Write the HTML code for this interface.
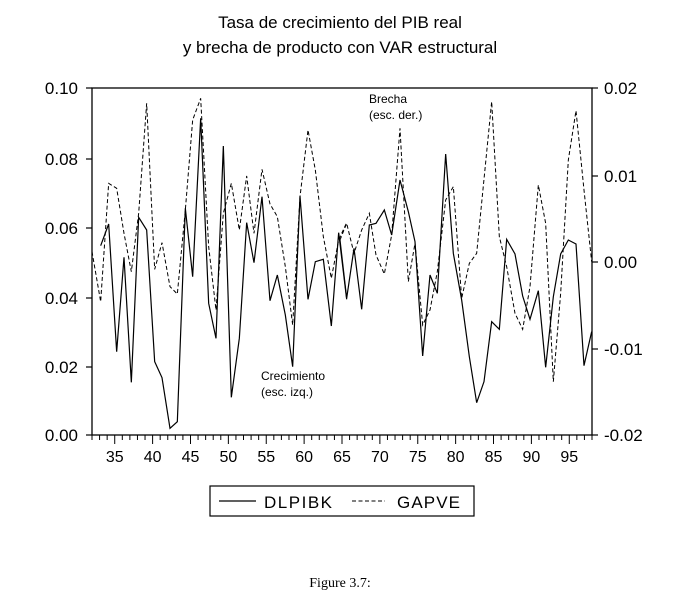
<!DOCTYPE html>
<html><head><meta charset="utf-8"><style>
body{margin:0;background:#fff;}
svg text{font-family:"Liberation Sans",sans-serif;fill:#000;}
</style></head><body>
<svg width="678" height="598" viewBox="0 0 678 598" xmlns="http://www.w3.org/2000/svg">
<text x="340" y="28" font-size="17" text-anchor="middle">Tasa de crecimiento del PIB real</text>
<text x="340" y="53" font-size="17" text-anchor="middle">y brecha de producto con VAR estructural</text>
<rect x="92" y="88" width="500" height="347" fill="none" stroke="#000" stroke-width="1.3"/>
<g stroke="#000" stroke-width="1.2">
<line x1="86" y1="88" x2="92" y2="88"/><line x1="86" y1="159" x2="92" y2="159"/><line x1="86" y1="228" x2="92" y2="228"/><line x1="86" y1="298" x2="92" y2="298"/><line x1="86" y1="367" x2="92" y2="367"/><line x1="86" y1="435" x2="92" y2="435"/>
<line x1="592" y1="88" x2="598" y2="88"/><line x1="592" y1="176" x2="598" y2="176"/><line x1="592" y1="262" x2="598" y2="262"/><line x1="592" y1="349" x2="598" y2="349"/><line x1="592" y1="435" x2="598" y2="435"/>
</g>
<g id="xt" stroke="#000" stroke-width="1"></g>
<g font-size="17">
<text x="78" y="94" text-anchor="end">0.10</text>
<text x="78" y="165" text-anchor="end">0.08</text>
<text x="78" y="234" text-anchor="end">0.06</text>
<text x="78" y="304" text-anchor="end">0.04</text>
<text x="78" y="373" text-anchor="end">0.02</text>
<text x="78" y="441" text-anchor="end">0.00</text>
<text x="604" y="94">0.02</text>
<text x="604" y="182">0.01</text>
<text x="604" y="268">0.00</text>
<text x="604" y="355">-0.01</text>
<text x="604" y="441">-0.02</text>
</g>
<g font-size="16" text-anchor="middle" id="xl"></g>
<g transform="translate(88,80) scale(0.33333)" fill="none" stroke="#000">
<polyline vector-effect="non-scaling-stroke" stroke-width="1.2" points="38,497 62,432 86,815 108,532 130,907 152,412 176,450 200,845 222,893 246,1045 268,1025 292,385 314,590 338,115 362,670 384,775 406,198 430,952 454,775 476,428 498,548 522,350 546,662 568,585 592,705 614,860 636,348 660,658 682,545 706,538 730,738 752,458 776,658"/>
<polyline vector-effect="non-scaling-stroke" stroke-width="1" stroke-dasharray="4,2.5" points="12,515 38,665 62,310 86,325 108,460 130,575 152,400 176,70 200,568 222,488 246,620 268,642 292,390 314,120 338,55 362,500 384,690 406,400 430,310 454,450 476,288 498,460 522,268 546,372 568,410 592,560 614,735 636,350 660,150 682,270 706,470 730,595 752,480 776,428"/>
</g>
<g transform="translate(340,80) scale(0.33333)" fill="none" stroke="#000">
<polyline vector-effect="non-scaling-stroke" stroke-width="1.2" points="0,480 20,655 42,505 65,688 88,435 108,430 133,390 155,465 180,300 205,395 225,485 248,828 270,585 292,640 317,222 340,520 365,660 388,830 410,968 432,905 455,725 478,748 500,478 525,522 548,648 570,718 595,632 617,862 640,650 662,522 685,480 708,492 732,857 755,755"/>
<polyline vector-effect="non-scaling-stroke" stroke-width="1" stroke-dasharray="4,2.5" points="0,480 20,430 42,520 65,450 88,400 108,525 133,582 155,465 180,145 205,605 225,490 248,735 270,690 292,575 317,360 340,320 365,655 388,550 410,520 455,65 478,470 500,560 525,700 548,748 570,620 595,315 617,430 640,905 662,640 685,240 708,92 732,330 755,545"/>
</g>
<text x="369" y="103" font-size="12">Brecha</text>
<text x="369" y="119" font-size="12">(esc. der.)</text>
<text x="261" y="380" font-size="12">Crecimiento</text>
<text x="261" y="396" font-size="12">(esc. izq.)</text>
<rect x="210" y="486" width="264" height="30" fill="none" stroke="#000" stroke-width="1.2"/>
<line x1="219" y1="501" x2="256" y2="501" stroke="#000" stroke-width="1.2"/>
<text x="264" y="508" font-size="17" textLength="68">DLPIBK</text>
<line x1="352" y1="501" x2="385" y2="501" stroke="#000" stroke-width="1" stroke-dasharray="4,2.5"/>
<text x="397" y="508" font-size="17" textLength="63">GAPVE</text>
<text x="340" y="587" font-size="14" text-anchor="middle" style="font-family:'Liberation Serif',serif">Figure 3.7:</text>
<script>
var xt=document.getElementById('xt'),xl=document.getElementById('xl'),ns='http://www.w3.org/2000/svg';
for(var y=32;y<=98;y++){var x=92+(y-32)*500/66;var l=document.createElementNS(ns,'line');l.setAttribute('x1',x);l.setAttribute('x2',x);l.setAttribute('y1',435);l.setAttribute('y2',y%5==0?444:440);xt.appendChild(l);
if(y%5==0){var t=document.createElementNS(ns,'text');t.setAttribute('x',x);t.setAttribute('y',462);t.textContent=y;xl.appendChild(t);}}
</script>
</svg>
</body></html>
